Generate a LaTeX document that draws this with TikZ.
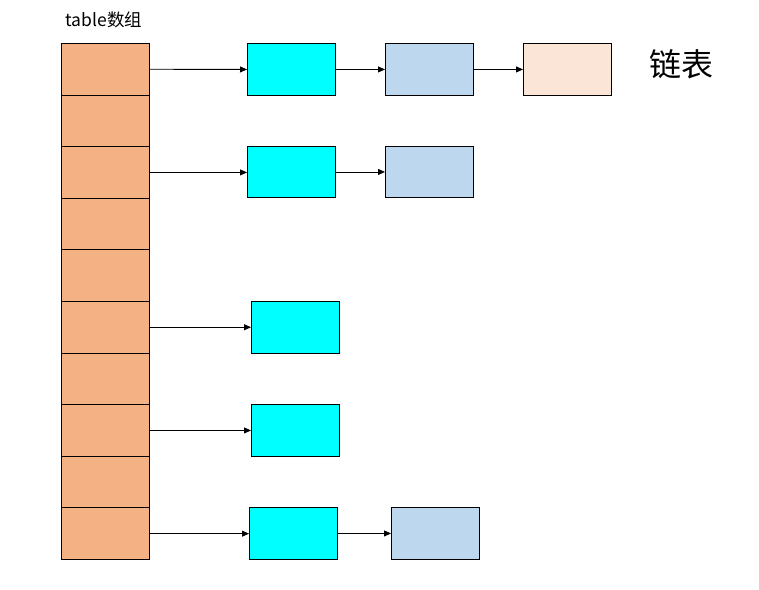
\documentclass[tikz,border=0pt]{standalone}
\usepackage{fontspec}
\setmainfont{Noto Sans CJK SC}
\usetikzlibrary{arrows.meta}
\definecolor{tablec}{HTML}{F4B183}
\definecolor{cyanc}{HTML}{00FFFF}
\definecolor{bluec}{HTML}{BDD7EE}
\definecolor{peachc}{HTML}{FBE5D6}
\begin{document}
\begin{tikzpicture}[x=1pt,y=-1pt,
  cell/.style={draw=black,line width=0.9pt,fill=tablec,minimum width=88pt,minimum height=51.6pt,inner sep=0pt,anchor=north west},
  box/.style={draw=black,line width=0.9pt,minimum width=88pt,minimum height=52pt,inner sep=0pt,anchor=north west},
  link/.style={draw=black,line width=0.9pt,-{Triangle[length=7pt,width=6pt]}}]
\useasboundingbox (0,0) rectangle (759,589);
\foreach \i in {0,...,9}{
  \node[cell] (t\i) at (61,{43+\i*51.6}) {};
}
\node[font=\fontsize{17.5}{20}\selectfont] (lbl) at (104,20) {table数组};
\node[font=\fontsize{32}{36}\selectfont] (lst) at (681,64) {链表};
% row 0
\node[box,fill=cyanc] (a0) at (247,43) {};
\node[box,fill=bluec] (b0) at (385,43) {};
\node[box,fill=peachc] (c0) at (523,43) {};
% row 2
\node[box,fill=cyanc,minimum height=51pt] (a2) at (247,146) {};
\node[box,fill=bluec,minimum height=51pt] (b2) at (385,146) {};
% row 5
\node[box,fill=cyanc] (a5) at (251,301) {};
% row 7
\node[box,fill=cyanc] (a7) at (251,404) {};
% row 9
\node[box,fill=cyanc] (a9) at (249,507) {};
\node[box,fill=bluec] (b9) at (391,507) {};
\draw[link] (t0.east) -- (a0.west);
\draw[link] (a0.east) -- (b0.west);
\draw[link] (b0.east) -- (c0.west);
\draw[link] (t2.east) -- (t2.east -| a2.west);
\draw[link] (a2.east) -- (b2.west);
\draw[link] (t5.east) -- (t5.east -| a5.west);
\draw[link] (t7.east) -- (t7.east -| a7.west);
\draw[link] (t9.east) -- (t9.east -| a9.west);
\draw[link] (a9.east) -- (b9.west);
\end{tikzpicture}
\end{document}
